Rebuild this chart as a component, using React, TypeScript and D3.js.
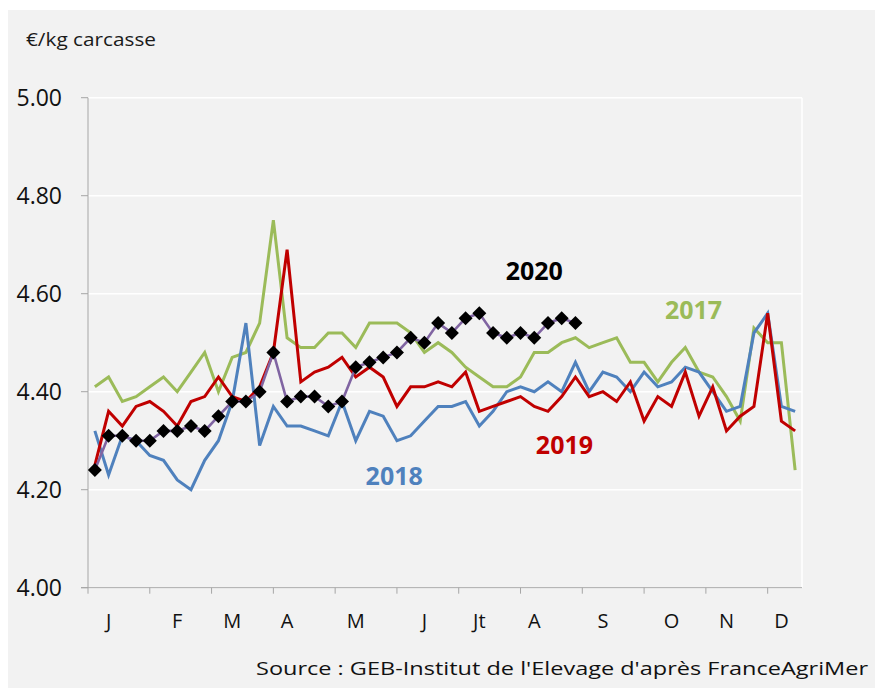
import React from 'react';
import * as d3 from 'd3';

// weekly prices, €/kg carcasse, week 1..52
const s2017 = [4.41, 4.43, 4.38, 4.39, 4.41, 4.43, 4.40, 4.44, 4.48, 4.40, 4.47, 4.48, 4.54, 4.75, 4.51, 4.49, 4.49, 4.52, 4.52, 4.49, 4.54, 4.54, 4.54, 4.52, 4.48, 4.50, 4.48, 4.45, 4.43, 4.41, 4.41, 4.43, 4.48, 4.48, 4.50, 4.51, 4.49, 4.50, 4.51, 4.46, 4.46, 4.42, 4.46, 4.49, 4.44, 4.43, 4.39, 4.34, 4.53, 4.50, 4.50, 4.24];
const s2018 = [4.32, 4.23, 4.31, 4.30, 4.27, 4.26, 4.22, 4.20, 4.26, 4.30, 4.38, 4.54, 4.29, 4.37, 4.33, 4.33, 4.32, 4.31, 4.38, 4.30, 4.36, 4.35, 4.30, 4.31, 4.34, 4.37, 4.37, 4.38, 4.33, 4.36, 4.40, 4.41, 4.40, 4.42, 4.40, 4.46, 4.40, 4.44, 4.43, 4.40, 4.44, 4.41, 4.42, 4.45, 4.44, 4.40, 4.36, 4.37, 4.52, 4.56, 4.37, 4.36];
const s2019 = [4.25, 4.36, 4.33, 4.37, 4.38, 4.36, 4.33, 4.38, 4.39, 4.43, 4.39, 4.38, 4.41, 4.48, 4.69, 4.42, 4.44, 4.45, 4.47, 4.43, 4.45, 4.43, 4.37, 4.41, 4.41, 4.42, 4.41, 4.44, 4.36, 4.37, 4.38, 4.39, 4.37, 4.36, 4.39, 4.43, 4.39, 4.40, 4.38, 4.42, 4.34, 4.39, 4.37, 4.44, 4.35, 4.41, 4.32, 4.35, 4.37, 4.56, 4.34, 4.32];
const s2020 = [4.24, 4.31, 4.31, 4.30, 4.30, 4.32, 4.32, 4.33, 4.32, 4.35, 4.38, 4.38, 4.40, 4.48, 4.38, 4.39, 4.39, 4.37, 4.38, 4.45, 4.46, 4.47, 4.48, 4.51, 4.50, 4.54, 4.52, 4.55, 4.56, 4.52, 4.51, 4.52, 4.51, 4.54, 4.55, 4.54];

const months = ['J', 'F', 'M', 'A', 'M', 'J', 'Jt', 'A', 'S', 'O', 'N', 'D'];
const monthWeeks = [1, 6, 10, 14, 19, 24, 28, 32, 37, 42, 46, 50];
const yTicks = [4.0, 4.2, 4.4, 4.6, 4.8, 5.0];

// year labels placed in data space (week index, price)
const yearLabels = [
  { text: '2017', week: 43.6, value: 4.566, color: '#9bbb59' },
  { text: '2018', week: 21.8, value: 4.228, color: '#4f81bd' },
  { text: '2019', week: 34.2, value: 4.291, color: '#c00000' },
  { text: '2020', week: 32.0, value: 4.647, color: '#000000' },
];

const W = 875;
const H = 688;
const font = "'Open Sans', 'DejaVu Sans', sans-serif";

export default function App() {
  const left = 88, right = 802, top = 97.7, bottom = 587.7;
  const weeks = d3.range(52);
  const xb = d3.scaleBand<number>().domain(weeks).range([left, right]);
  const x = (i: number) => (xb(i) as number) + xb.bandwidth() / 2;
  const xw = (w: number) => left + (w + 0.5) * xb.bandwidth();
  const y = d3.scaleLinear().domain([4.0, 5.0]).range([bottom, top]);
  const xTick = d3.scaleLinear().domain([0, 52]).range([left, right]);

  const line = d3.line<number>().x((d, i) => x(i)).y(d => y(d));
  const diamond = d3.symbol().type(d3.symbolDiamond2).size(125)();

  const series = [
    { data: s2017, color: '#9bbb59' },
    { data: s2018, color: '#4f81bd' },
    { data: s2019, color: '#c00000' },
  ];

  return (
    <svg width={W} height={H} style={{ position: 'absolute', left: 0, top: 0, display: 'block' }}>
      <rect x={8} y={10} width={W - 8} height={H - 10} fill="#f2f2f2" />
      <text x={26} y={46} fontFamily={font} fontSize={18} fill="#1a1a1a" textLength={130} lengthAdjust="spacingAndGlyphs">€/kg carcasse</text>

      {/* grid */}
      {yTicks.map(t => (
        <line key={t} x1={left} x2={right} y1={y(t)} y2={y(t)} stroke="#ffffff" strokeWidth={1.5} />
      ))}
      <line x1={right} x2={right} y1={top} y2={bottom} stroke="#ffffff" strokeWidth={1.5} />

      {/* axes */}
      <line x1={left} x2={left} y1={top} y2={bottom} stroke="#a6a6a6" strokeWidth={1} />
      {yTicks.map(t => (
        <g key={'yt' + t}>
          <line x1={left - 7} x2={left} y1={y(t)} y2={y(t)} stroke="#a6a6a6" />
          <text x={62} y={y(t)} dy="0.36em" textAnchor="end" fontFamily={font} fontSize={23} fill="#111111">{t.toFixed(2)}</text>
        </g>
      ))}
      <line x1={left - 7} x2={right} y1={bottom} y2={bottom} stroke="#a6a6a6" strokeWidth={1} />
      {d3.range(12).map(k => (
        <line key={'xt' + k} x1={xTick(k * 4.5)} x2={xTick(k * 4.5)} y1={bottom} y2={bottom + 6} stroke="#a6a6a6" />
      ))}
      {months.map((m, k) => (
        <text key={'m' + k} x={x(monthWeeks[k])} y={628} textAnchor="middle" fontFamily={font} fontSize={20} fill="#111111">{m}</text>
      ))}

      {/* series */}
      {series.map(s => (
        <path key={s.color} d={line(s.data) || ''} fill="none" stroke={s.color} strokeWidth={3} />
      ))}
      <path d={line(s2020) || ''} fill="none" stroke="#8064a2" strokeWidth={2.6} />
      {s2020.map((v, i) => (
        <path key={'d' + i} d={diamond || ''} transform={`translate(${x(i)},${y(v)})`} fill="#000000" />
      ))}

      {yearLabels.map(l => (
        <text key={l.text} x={xw(l.week)} y={y(l.value)} dy="0.36em" textAnchor="middle" fontFamily={font} fontWeight="bold" fontSize={25} fill={l.color}>{l.text}</text>
      ))}

      <text x={868} y={675} textAnchor="end" fontFamily={font} fontSize={19} fill="#111111" textLength={612} lengthAdjust="spacingAndGlyphs">Source : GEB-Institut de l'Elevage d'après FranceAgriMer</text>
    </svg>
  );
}
